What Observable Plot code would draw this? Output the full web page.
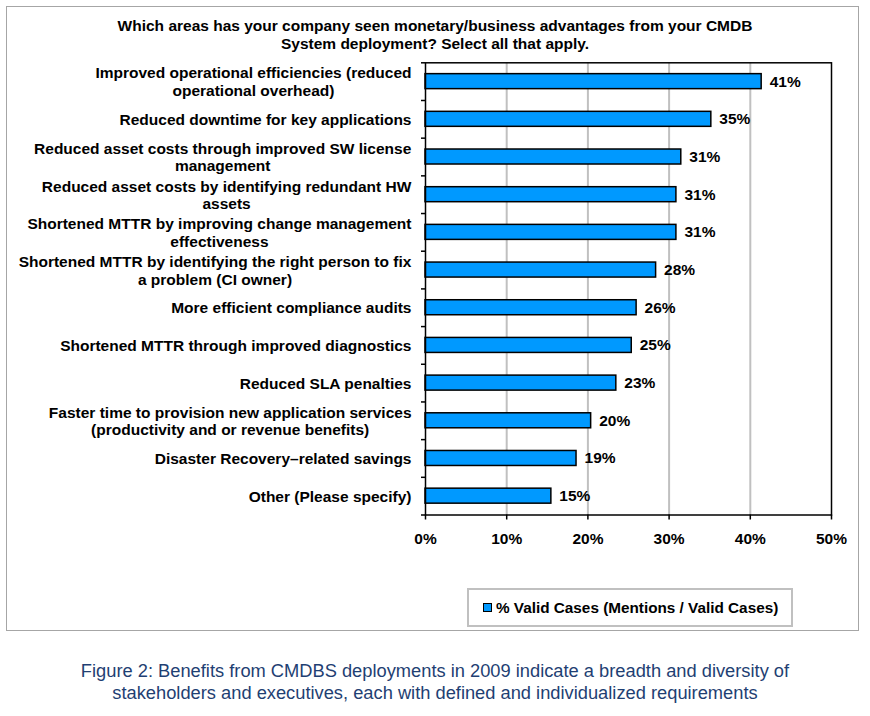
<!DOCTYPE html>
<html>
<head>
<meta charset="utf-8">
<script src="https://cdn.jsdelivr.net/npm/d3@7"></script>
<script src="https://cdn.jsdelivr.net/npm/@observablehq/plot@0.6"></script>
<style>
  body { margin: 0; background: #fff; font-family: "Liberation Sans", Arial, sans-serif; }
  #wrap { position: relative; width: 870px; height: 716px; }
  #box { position: absolute; left: 6px; top: 6px; width: 851px; height: 623px; border: 1px solid #a6a6a6; }
  #title { position: absolute; left: 0; top: 17px; width: 870px; text-align: center; font-weight: bold; font-size: 15.5px; line-height: 18px; color: #000; }
  #chart { position: absolute; left: 0; top: 52px; line-height: 0; }
  #legend { position: absolute; left: 467px; top: 588px; width: 322px; height: 35px; border: 2px solid #c0c0c0; display: flex; align-items: center; font-weight: bold; font-size: 15.3px; color: #000; }
  #legend .sw { display: inline-block; width: 7px; height: 7px; background: #0099ff; border: 1.5px solid #000; margin-left: 14px; margin-right: 4px; }
  #caption { position: absolute; left: 0; top: 660px; width: 870px; text-align: center; font-size: 18.3px; line-height: 22px; color: #1f3f73; }
</style>
</head>
<body>
<div id="wrap">
  <div id="box"></div>
  <div id="title">Which areas has your company seen monetary/business advantages from your CMDB<br>System deployment? Select all that apply.</div>
  <div id="chart"></div>
  <div id="legend"><span class="sw"></span><span>% Valid Cases (Mentions / Valid Cases)</span></div>
  <div id="caption">Figure 2: Benefits from CMDBS deployments in 2009 indicate a breadth and diversity of<br>stakeholders and executives, each with defined and individualized requirements</div>
</div>
<script>
const categories = [
  "Improved operational efficiencies (reduced\noperational overhead)",
  "Reduced downtime for key applications",
  "Reduced asset costs through improved SW license\nmanagement",
  "Reduced asset costs by identifying redundant HW\nassets",
  "Shortened MTTR by improving change management\neffectiveness",
  "Shortened MTTR by identifying the right person to fix\na problem (CI owner)",
  "More efficient compliance audits",
  "Shortened MTTR through improved diagnostics",
  "Reduced SLA penalties",
  "Faster time to provision new application services\n(productivity and or revenue benefits)",
  "Disaster Recovery\u2013related savings",
  "Other (Please specify)"
];
const values = [41.4, 35.2, 31.5, 30.9, 30.9, 28.4, 26.0, 25.4, 23.5, 20.4, 18.6, 15.5];
const valueLabels = ["41%", "35%", "31%", "31%", "31%", "28%", "26%", "25%", "23%", "20%", "19%", "15%"];
const xTicks = [0, 10, 20, 30, 40, 50];

const data = categories.map((c, i) => ({category: c, value: values[i], label: valueLabels[i]}));

const H = 502.5, MT = 10.3, MB = 40;
const halfBand = (H - MT - MB) / categories.length / 2;
const FS = 15.5;

const svg = Plot.plot({
  width: 870,
  height: H,
  marginLeft: 425,
  marginRight: 39,
  marginTop: MT,
  marginBottom: MB,
  x: {domain: [0, 50]},
  y: {domain: categories, padding: 0, round: false},
  style: {fontFamily: '"Liberation Sans", Arial, sans-serif', fontSize: FS + "px", fontWeight: "bold", color: "#000", background: "transparent", overflow: "visible"},
  marks: [
    Plot.gridX(xTicks.slice(1, -1), {stroke: "#c0c0c0", strokeOpacity: 1, strokeWidth: 2}),
    Plot.barX(data, {x: "value", y: "category", fill: "#0099ff", stroke: "#000", strokeWidth: 1.5, insetTop: halfBand - 7.5, insetBottom: halfBand - 7.5}),
    Plot.text(data, {x: "value", y: "category", text: "label", textAnchor: "start", dx: 8, fill: "#000", fontSize: FS, fontWeight: "bold"}),
    Plot.frame({stroke: "#000", strokeWidth: 1.5}),
    Plot.axisX({ticks: xTicks, tickFormat: d => d + "%", tickSize: 5, tickPadding: 12.5, anchor: "bottom", label: null, stroke: "#000", strokeWidth: 1.5, fontSize: FS}),
    Plot.axisY({tickSize: 0, tickPadding: 14, label: null, lineHeight: 1.14, fontSize: FS}),
    Plot.axisY({tickSize: 4, tickFormat: () => "", dy: -halfBand, label: null, stroke: "#000", strokeWidth: 1.5}),
    Plot.axisY({ticks: [categories[categories.length - 1]], tickSize: 4, tickFormat: () => "", dy: halfBand, label: null, stroke: "#000", strokeWidth: 1.5})
  ]
});
document.getElementById("chart").appendChild(svg);

// center each multi-line y label within its block, keeping the block right-aligned
const g = svg.querySelector('g[aria-label="y-axis tick label"]');
if (g) {
  g.querySelectorAll("text").forEach(t => {
    const w = t.getBBox().width;
    const spans = t.querySelectorAll("tspan");
    t.setAttribute("text-anchor", "middle");
    if (spans.length) spans.forEach(s => s.setAttribute("x", -w / 2));
    else t.setAttribute("x", -w / 2);
  });
}
</script>
</body>
</html>
